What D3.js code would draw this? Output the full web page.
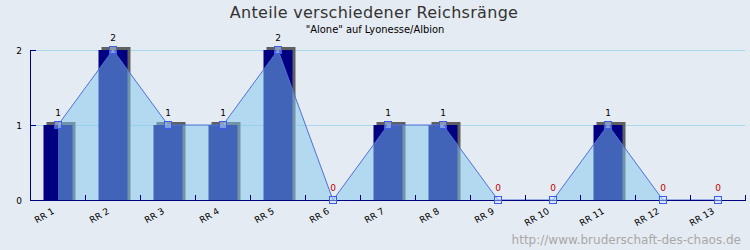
<!DOCTYPE html>
<html><head><meta charset="utf-8">
<script src="https://cdn.jsdelivr.net/npm/d3@7"></script>
<style>
html,body{margin:0;padding:0;background:#e5ebf2;}
svg{display:block;font-family:"DejaVu Sans",sans-serif;}
</style></head>
<body><svg id="c" width="750" height="250"></svg>
<script>
const categories = ["RR 1","RR 2","RR 3","RR 4","RR 5","RR 6","RR 7","RR 8","RR 9","RR 10","RR 11","RR 12","RR 13"];
const values = [1,2,1,1,2,0,1,1,0,0,1,0,0];
const yTicks = [0,1,2];
const title = "Anteile verschiedener Reichsränge";
const subtitle = "\"Alone\" auf Lyonesse/Albion";
const watermark = "http://www.bruderschaft-des-chaos.de";

const svg = d3.select("#c");
svg.append("rect").attr("width",750).attr("height",250).attr("fill","#e5ebf2");

const x = d3.scaleBand().domain(categories).range([30.5,745.5]).padding(0);
const y = d3.scaleLinear().domain([0,2]).range([200,50]);
const cx = d => x(d) + x.bandwidth()/2;
const barW = 29;

// gridlines
svg.append("g").selectAll("line").data(yTicks.filter(t=>t>0)).join("line")
  .attr("x1",30).attr("x2",745).attr("y1",d=>y(d)+0.5).attr("y2",d=>y(d)+0.5)
  .attr("stroke","#a8d8ea").attr("stroke-width",1);

const barData = values.map((v,i)=>({c:categories[i],v})).filter(d=>d.v>0);
// bar shadows
svg.append("g").selectAll("rect").data(barData).join("rect")
  .attr("x",d=>cx(d.c)-barW/2+3).attr("y",d=>y(d.v)-3)
  .attr("width",barW).attr("height",d=>200-y(d.v)+3)
  .attr("fill","#606060");
// bars
svg.append("g").selectAll("rect").data(barData).join("rect")
  .attr("x",d=>cx(d.c)-barW/2).attr("y",d=>y(d.v))
  .attr("width",barW).attr("height",d=>200-y(d.v))
  .attr("fill","#000080");

// area
const pts = values.map((v,i)=>({c:categories[i],v}));
const area = d3.area().x(d=>cx(d.c)).y0(200).y1(d=>y(d.v));
svg.append("path").datum(pts).attr("d",area).attr("fill","rgb(130,200,240)").attr("fill-opacity",0.5);
const line = d3.line().x(d=>cx(d.c)).y(d=>y(d.v));
svg.append("path").datum(pts).attr("d",line).attr("fill","none").attr("stroke","#5070d8").attr("stroke-width",1);

// axes
const ax = svg.append("g");
ax.append("line").attr("x1",30.5).attr("x2",30.5).attr("y1",50).attr("y2",200.5).attr("stroke","#000080");
ax.append("line").attr("x1",30).attr("x2",746).attr("y1",200.5).attr("y2",200.5).attr("stroke","#000080");
ax.selectAll(".yt").data(yTicks).join("line").attr("class","yt")
  .attr("x1",30).attr("x2",36).attr("y1",d=>y(d)+0.5).attr("y2",d=>y(d)+0.5).attr("stroke","#000080");
ax.selectAll(".xt").data(d3.range(categories.length+1)).join("line").attr("class","xt")
  .attr("x1",i=>30.5+i*x.bandwidth()).attr("x2",i=>30.5+i*x.bandwidth())
  .attr("y1",195).attr("y2",200).attr("stroke","#000080");
ax.selectAll(".yl").data(yTicks).join("text").attr("class","yl")
  .attr("x",22).attr("y",d=>y(d)+3.5).attr("text-anchor","end")
  .attr("font-size",9).attr("fill","#000").text(d=>d);
ax.selectAll(".xl").data(categories).join("text").attr("class","xl")
  .attr("text-anchor","end").attr("font-size",9).attr("fill","#000")
  .attr("transform",d=>`translate(${cx(d)-3},${213}) rotate(-30)`).text(d=>d);

// markers (semi-transparent fill so zero-value markers look hollow)
svg.append("g").selectAll("rect").data(pts).join("rect")
  .attr("x",d=>cx(d.c)-3.5).attr("y",d=>y(d.v)-3.5).attr("width",7).attr("height",7)
  .attr("fill","#c8e4ff").attr("fill-opacity",0.45).attr("stroke","#3c5cf0").attr("stroke-width",1);

// value labels
svg.append("g").selectAll("text").data(pts).join("text")
  .attr("x",d=>cx(d.c)).attr("y",d=>y(d.v)-9).attr("text-anchor","middle")
  .attr("font-size",9).attr("fill",d=>d.v===0?"#c00000":"#000").text(d=>d.v);

// titles
svg.append("text").attr("x",374).attr("y",18).attr("text-anchor","middle")
  .attr("font-size",16).attr("fill","#333").attr("letter-spacing",0.3).text(title);
svg.append("text").attr("x",375).attr("y",33).attr("text-anchor","middle")
  .attr("font-family","'DejaVu Sans Condensed','DejaVu Sans',sans-serif").attr("font-stretch","condensed")
  .attr("font-size",11).attr("fill","#000").text(subtitle);
svg.append("text").attr("x",741).attr("y",244).attr("text-anchor","end")
  .attr("font-size",12).attr("fill","#a8a8a8").text(watermark);
</script></body></html>
